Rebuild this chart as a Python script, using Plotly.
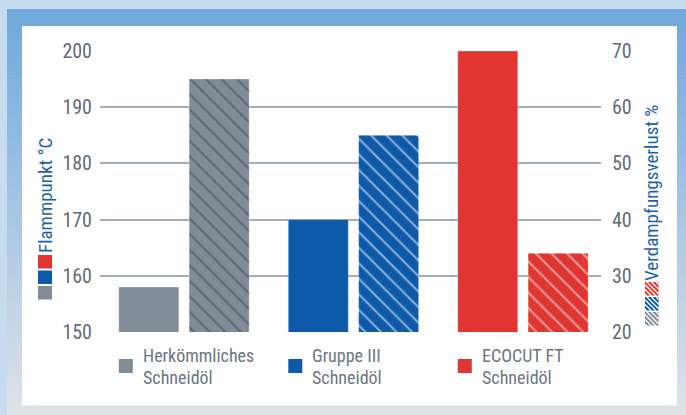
import plotly.graph_objects as go

# ---------------- data ----------------
categories = ["Herkömmliches<br>Schneidöl", "Gruppe III<br>Schneidöl", "ECOCUT FT<br>Schneidöl"]
flammpunkt = [158, 170, 200]          # left axis, °C (solid bars)
verdampfung = [65, 55, 34]            # right axis, % (hatched bars)
bar_colors = ["#808c98", "#0e59a8", "#e03531"]
left_ticks = [150, 160, 170, 180, 190, 200]
right_ticks = [20, 30, 40, 50, 60, 70]
left_title = "Flammpunkt °C"
right_title = "Verdampfungsverlust %"

W, H = 686, 415
ML, MR, MT, MB = 100, 85, 51, 83
PW, PH = W - ML - MR, H - MT - MB

FONT = "Liberation Sans Narrow, Arial Narrow, Roboto Condensed, Liberation Sans, sans-serif"
TICK_COL = "#5f6b77"
LAB_COL = "#6b7682"
TITLE_COL = "#1d5fa8"
GRID_COL = "#a3aeb9"


def px(X):
    return (X - ML) / PW


def py(Y):
    return (H - MB - Y) / PH


xi = list(range(len(categories)))
BW = 0.354

fig = go.Figure()
fig.add_trace(go.Bar(
    x=xi, y=flammpunkt, width=BW, offset=-0.385,
    marker=dict(color=bar_colors, line=dict(width=0.8, color="rgba(255,255,255,0.35)")),
    yaxis="y", showlegend=False,
))
fig.add_trace(go.Bar(
    x=xi, y=verdampfung, width=BW, offset=0.03,
    marker=dict(color=bar_colors, line=dict(width=0.8, color="rgba(255,255,255,0.35)"),
                pattern=dict(shape="\\", fillmode="overlay", fgcolor="white",
                             size=11, solidity=0.2)),
    yaxis="y2", showlegend=False,
))

shapes = []
# background: outer light blue, gradient frame, white panel
c0 = (111, 168, 220)
c1 = (223, 227, 232)
Y0f, Y1f = 9, 415
n = 104
for k in range(n):
    ya = Y0f + (Y1f - Y0f) * k / n
    yb = Y0f + (Y1f - Y0f) * (k + 1) / n + 0.5
    t = k / (n - 1)
    col = "rgb(%d,%d,%d)" % tuple(round(c0[j] + (c1[j] - c0[j]) * t) for j in range(3))
    shapes.append(dict(type="rect", xref="paper", yref="paper", layer="below",
                       x0=px(7), x1=px(686), y0=py(ya), y1=py(yb),
                       line=dict(width=0), fillcolor=col))
shapes.append(dict(type="rect", xref="paper", yref="paper", layer="below",
                   x0=px(22), x1=px(677), y0=py(26), y1=py(405.5),
                   line=dict(width=0), fillcolor="white"))

# category legend squares (bottom)
for i, c in enumerate(bar_colors):
    shapes.append(dict(type="rect", xref="x", yref="paper", layer="above",
                       x0=i - 0.385, x1=i - 0.385 + 14 / 169.5,
                       y0=py(359), y1=py(373), line=dict(width=0), fillcolor=c))

# left title key squares
for j, c in enumerate(bar_colors[::-1]):
    top = 255 + j * 15.5
    shapes.append(dict(type="rect", xref="paper", yref="paper",
                       x0=px(38), x1=px(52), y0=py(top), y1=py(top + 13.5),
                       line=dict(width=0), fillcolor=c))


def hatch_square(X0, Y0, S, color):
    out = [dict(type="rect", xref="paper", yref="paper",
                x0=px(X0), x1=px(X0 + S), y0=py(Y0), y1=py(Y0 + S),
                line=dict(width=0), fillcolor=color)]
    path = ""
    step = 4.6
    c = -S + 1.5
    while c < S:
        xa = X0 + max(0, c)
        ya = Y0 + (xa - X0) - c
        xb = X0 + min(S, S + c)
        yb = Y0 + (xb - X0) - c
        path += "M%.5f,%.5f L%.5f,%.5f " % (px(xa), py(ya), px(xb), py(yb))
        c += step
    out.append(dict(type="path", xref="paper", yref="paper", path=path,
                    line=dict(color="white", width=1.3)))
    return out


for j, c in enumerate(bar_colors[::-1]):
    shapes += hatch_square(645, 282 + j * 15, 13.5, c)

annotations = []
for i, cat in enumerate(categories):
    for k, line in enumerate(cat.split("<br>")):
        annotations.append(dict(
            x=i - 0.385, xref="x", xshift=22, xanchor="left",
            y=py(355 + 22 * k), yref="paper", yanchor="middle",
            text=line, showarrow=False, align="left",
            font=dict(family=FONT, size=18, color=LAB_COL)))

annotations.append(dict(x=px(45), y=py(196), xref="paper", yref="paper",
                        text=left_title, textangle=-90, showarrow=False,
                        xanchor="center", yanchor="middle",
                        font=dict(family=FONT, size=19, color=TITLE_COL)))
annotations.append(dict(x=px(652), y=py(193), xref="paper", yref="paper",
                        text=right_title, textangle=-90, showarrow=False,
                        xanchor="center", yanchor="middle",
                        font=dict(family=FONT, size=19, color=TITLE_COL)))

fig.update_layout(
    width=W, height=H,
    margin=dict(l=ML, r=MR, t=MT, b=MB, autoexpand=False),
    paper_bgcolor="#c8dcf0",
    plot_bgcolor="rgba(0,0,0,0)",
    barmode="overlay",
    xaxis=dict(range=[-0.496, 2.46], showticklabels=False, showgrid=False,
               zeroline=False, showline=False, ticks=""),
    yaxis=dict(range=[150, 200], tickvals=left_ticks, showgrid=True,
               gridcolor=GRID_COL, gridwidth=1.5, zeroline=False, showline=False,
               ticks="outside", ticklen=3, tickcolor="rgba(0,0,0,0)",
               tickfont=dict(family=FONT, size=20, color=TICK_COL)),
    yaxis2=dict(range=[20, 70], tickvals=right_ticks, overlaying="y", side="right",
                showgrid=False, zeroline=False, showline=False,
                ticks="outside", ticklen=6, tickcolor="rgba(0,0,0,0)",
                tickfont=dict(family=FONT, size=20, color=TICK_COL)),
    shapes=shapes,
    annotations=annotations,
)

fig.write_html("out.html", config={"displayModeBar": False},
               post_script="document.body.style.margin='0px';")
